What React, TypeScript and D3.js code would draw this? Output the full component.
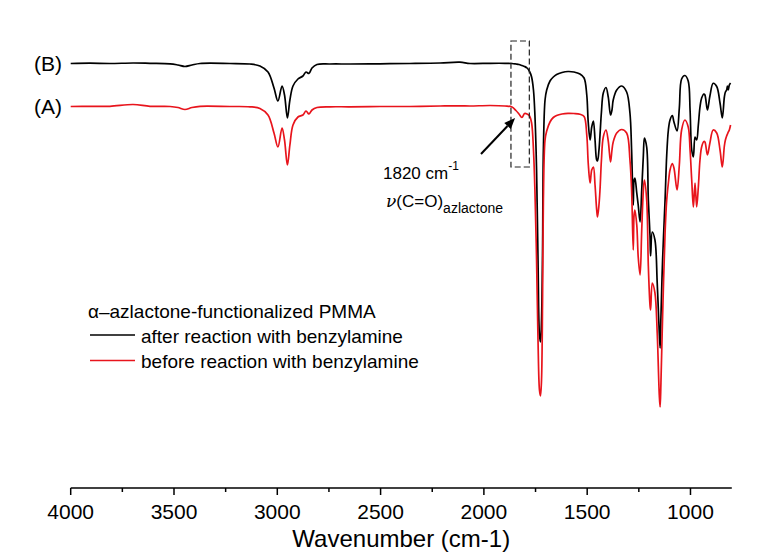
import React, { useEffect } from 'react';
import * as d3 from 'd3';

// wavenumber grid (cm-1), high -> low
const wavenumbers = [
  4000, 3907, 3810, 3698, 3616, 3519, 3481, 3447, 3413, 3374, 3229, 3132, 3084, 3045, 3016, 2997,
  2977, 2965, 2951, 2939, 2924, 2900, 2876, 2861, 2847, 2832, 2808, 2745, 2648, 2503, 2358, 2212,
  2116, 2067, 1970, 1898, 1864, 1845, 1830, 1816, 1803, 1791, 1779, 1769, 1760, 1753, 1745, 1738,
  1731, 1726, 1721, 1716, 1712, 1704, 1696, 1680, 1664, 1648, 1622, 1593, 1564, 1535, 1515, 1502,
  1495, 1486, 1478, 1470, 1462, 1454, 1450, 1443, 1438, 1431, 1422, 1409, 1398, 1387, 1380, 1374,
  1357, 1333, 1309, 1293, 1285, 1277, 1273, 1269, 1260, 1253, 1244, 1236, 1228, 1223, 1212, 1204,
  1196, 1193, 1185, 1172, 1161, 1151, 1147, 1143, 1135, 1123, 1115, 1107, 1099, 1088, 1080, 1065,
  1054, 1043, 1027, 1011, 1002, 994, 986, 978, 970, 962, 954, 946, 935, 930, 918, 906,
  890, 873, 857, 846, 836, 831, 825, 821, 817, 812, 806,
];

// (B) after reaction with benzylamine, transmittance in arbitrary units (offset trace)
const afterReaction = [
  376.5, 376.8, 376.5, 377, 376.7, 376.2, 375, 373.5, 375, 376.5, 376.5, 376, 374, 368, 352, 339,
  354, 345, 322, 340, 354, 361, 364, 368, 366.5, 372, 375.5, 376, 376, 376.2, 376.5, 377,
  377.8, 376.5, 376.7, 376.7, 376.5, 376, 375.5, 374.5, 373.5, 372, 368.5, 363, 350, 325, 270, 180,
  105, 98, 120, 190, 290, 340, 350, 359, 363, 365.5, 367.5, 368.5, 368, 366, 362, 345,
  318, 300, 313, 319, 300, 280, 279, 290, 305, 328, 347, 352.5, 343, 325, 330, 340,
  350, 354, 348, 327, 290, 235, 260, 262, 247, 235, 218, 250, 285, 302, 293, 240,
  205, 184, 208, 200, 157, 107, 92, 123, 180, 240, 285, 310, 320, 324.5, 318, 309,
  332, 361, 364.5, 359, 330, 290, 283, 303, 300, 315, 333, 342, 346, 345, 330, 344,
  356.7, 353.5, 337, 322, 343, 348, 350, 354, 350, 355, 357,
];

// (A) before reaction with benzylamine
const beforeReaction = [
  333.5, 333.7, 333.7, 335.5, 333.7, 333.5, 332.5, 330.5, 332.5, 333.7, 333.5, 333.2, 331.5, 325, 307, 293,
  312, 300, 275, 295, 315, 323, 325, 329, 326, 330, 332.5, 333.2, 333.2, 333.5, 333.5, 334,
  334.2, 334, 334.5, 334, 333, 329.5, 326, 322.5, 326.5, 326, 324, 317, 290, 250, 180, 100,
  50, 44, 60, 140, 240, 300, 309, 318, 322.5, 324.5, 326, 326.7, 326.5, 325.7, 323.5, 305,
  277, 257, 270, 273, 255, 230, 223, 235, 250, 280, 303, 310, 299, 278, 290, 298,
  307, 310.5, 307, 280, 250, 190, 225, 230, 215, 183, 165, 210, 250, 260, 240, 174,
  135, 130, 157, 147, 107, 45, 33, 57, 123, 207, 240, 257, 270, 276.5, 272, 250,
  275, 310, 320, 313, 290, 260, 233, 257, 233, 253, 280, 293, 298.5, 298, 285, 297,
  310, 307, 290, 273, 294, 300, 304, 306, 308, 310, 315,
];

const majorTicks = [4000, 3500, 3000, 2500, 2000, 1500, 1000];
const minorTicks = [3750, 3250, 2750, 2250, 1750, 1250];
const legendTitle = 'α–azlactone-functionalized PMMA';
const legendLabels = ['after reaction with benzylamine', 'before reaction with benzylamine'];
const traceLabels = ['(B)', '(A)'];
const colors = ['#000000', '#e8141c'];

// annotation around the 1820 cm-1 shoulder
const boxWave = [1869, 1780];
const boxLevel = [399, 273];
const arrowFrom = [2014, 286];
const arrowTo = [1849, 322];

const width = 769;
const height = 553;
const font = '"Liberation Sans", Arial, sans-serif';

export default function App() {
  useEffect(() => {
    document.body.style.margin = '0';
  }, []);

  const xScale = d3.scaleLinear().domain([4000, 800]).range([70.7, 731.8]);
  const yScale = d3.scaleLinear().domain([0, 400]).range([440, 40]);
  const axisY = 488;

  const series = [afterReaction, beforeReaction];
  const line = d3
    .line<number>()
    .x((_, i) => xScale(wavenumbers[i]))
    .y((d) => yScale(d))
    .curve(d3.curveCatmullRom.alpha(0.5));

  const ax = xScale(arrowFrom[0]);
  const ay = yScale(arrowFrom[1]);
  const bx = xScale(arrowTo[0]);
  const by = yScale(arrowTo[1]);
  const ang = Math.atan2(by - ay, bx - ax);
  const headLen = 11;
  const headW = 4.5;
  const hx = bx - headLen * Math.cos(ang);
  const hy = by - headLen * Math.sin(ang);
  const head = [
    [bx, by],
    [hx + headW * Math.sin(ang), hy - headW * Math.cos(ang)],
    [hx - headW * Math.sin(ang), hy + headW * Math.cos(ang)],
  ];

  return (
    <svg width={width} height={height} style={{ display: 'block', background: '#fff' }} fontFamily={font}>
      {/* spectra */}
      {series.map((s, k) => (
        <path
          key={k}
          d={line(s) || ''}
          fill="none"
          stroke={colors[k]}
          strokeWidth={1.7}
          strokeLinejoin="round"
        />
      ))}

      {/* trace labels */}
      {traceLabels.map((t, k) => (
        <text
          key={t}
          x={62}
          y={yScale(series[k][0]) + 7}
          textAnchor="end"
          fontSize={21}
          fill="#000"
        >
          {t}
        </text>
      ))}

      {/* dashed box */}
      <rect
        x={xScale(boxWave[0])}
        y={yScale(boxLevel[0])}
        width={xScale(boxWave[1]) - xScale(boxWave[0])}
        height={yScale(boxLevel[1]) - yScale(boxLevel[0])}
        fill="none"
        stroke="#222"
        strokeWidth={1.2}
        strokeDasharray="6,3"
      />

      {/* arrow */}
      <line x1={ax} y1={ay} x2={hx} y2={hy} stroke="#000" strokeWidth={2} />
      <polygon points={head.map((p) => p.join(',')).join(' ')} fill="#000" />

      {/* annotation */}
      <text x={383} y={179} fontSize={17} fill="#000">
        1820 cm
        <tspan fontSize={12} dy={-9}>
          -1
        </tspan>
      </text>
      <text x={386} y={207} fontSize={17} fill="#000">
        <tspan fontFamily="'DejaVu Serif', serif" fontStyle="italic">ν</tspan>
        (C=O)
        <tspan fontSize={14} dy={6}>
          azlactone
        </tspan>
      </text>

      {/* legend */}
      <text x={88} y={318} fontSize={19} fill="#000">
        {legendTitle}
      </text>
      {legendLabels.map((l, k) => (
        <g key={l}>
          <line x1={90} x2={135} y1={335 + k * 25.5} y2={335 + k * 25.5} stroke={colors[k]} strokeWidth={1.7} />
          <text x={141} y={343 + k * 25} fontSize={19} fill="#000">
            {l}
          </text>
        </g>
      ))}

      {/* x axis */}
      <line x1={xScale(4000)} x2={xScale(800)} y1={axisY} y2={axisY} stroke="#000" strokeWidth={1.5} />
      {majorTicks.map((t) => (
        <g key={t}>
          <line x1={xScale(t)} x2={xScale(t)} y1={axisY} y2={axisY + 7} stroke="#000" strokeWidth={1.5} />
          <text x={xScale(t)} y={519} textAnchor="middle" fontSize={21} fill="#000">
            {t}
          </text>
        </g>
      ))}
      {minorTicks.map((t) => (
        <line key={t} x1={xScale(t)} x2={xScale(t)} y1={axisY} y2={axisY + 4} stroke="#000" strokeWidth={1.5} />
      ))}
      <text x={(xScale(4000) + xScale(800)) / 2} y={547} textAnchor="middle" fontSize={24} fill="#000">
        Wavenumber (cm-1)
      </text>
    </svg>
  );
}
